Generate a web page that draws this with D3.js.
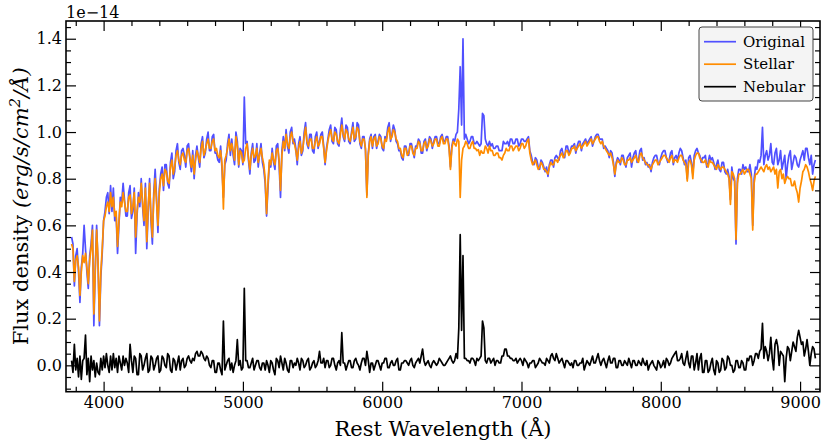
<!DOCTYPE html>
<html>
<head>
<meta charset="utf-8">
<script src="https://cdn.jsdelivr.net/npm/d3@7"></script>
<style>
  body { margin: 0; background: #fff; }
  text { font-family: "DejaVu Serif", serif; fill: #000; }
</style>
</head>
<body>
<div id="chart"></div>
<script>
// wavelength grid of the spectra (Angstrom)
var startWave = 3770;
var stepWave = 10;

// flux density, units of 1e-14 erg/s/cm2/A, one row = 200 A
var stellar = [
  0.52,0.50,0.36,0.45,0.47,0.42,0.30,0.40,0.47,0.44, 0.48,0.42,0.35,0.45,0.50,0.58,0.22,0.40,0.58,0.45,
  0.19,0.40,0.50,0.62,0.64,0.68,0.70,0.66,0.74,0.68, 0.72,0.64,0.66,0.51,0.62,0.70,0.68,0.74,0.70,0.66,
  0.66,0.72,0.73,0.65,0.68,0.74,0.55,0.66,0.72,0.70, 0.78,0.70,0.62,0.76,0.53,0.68,0.78,0.64,0.55,0.72,
  0.80,0.70,0.60,0.74,0.80,0.82,0.77,0.84,0.83,0.79, 0.78,0.85,0.88,0.82,0.85,0.90,0.92,0.88,0.86,0.90,
  0.91,0.88,0.87,0.92,0.93,0.89,0.85,0.90,0.82,0.88, 0.92,0.90,0.87,0.93,0.96,0.90,0.92,0.95,0.97,0.93,
  0.93,0.96,0.97,0.92,0.93,0.90,0.89,0.92,0.86,0.67, 0.88,0.90,0.93,0.97,0.92,0.95,0.92,0.88,0.98,0.94,
  0.86,0.92,0.91,0.87,0.88,0.93,0.95,0.89,0.84,0.90, 0.93,0.89,0.90,0.93,0.87,0.90,0.93,0.89,0.86,0.80,
  0.65,0.78,0.88,0.86,0.91,0.88,0.86,0.92,0.93,0.88, 0.75,0.90,0.96,0.93,0.99,0.95,0.93,0.98,1.00,0.96,
  0.95,0.92,0.88,0.93,0.96,0.91,0.93,0.98,1.02,0.96, 0.94,0.97,0.97,0.93,0.93,0.96,0.98,0.94,0.95,0.98,
  0.98,0.93,0.87,0.92,0.96,0.99,1.01,0.97,0.96,1.00, 0.99,0.96,0.95,0.99,1.03,0.99,0.97,1.01,1.00,0.97,
  0.96,0.99,1.02,0.97,0.98,1.02,1.01,0.96,0.94,0.97, 0.97,0.93,0.72,0.90,0.96,0.98,0.94,0.97,0.98,0.94,
  0.95,0.98,0.97,0.94,0.93,0.97,0.96,1.00,1.02,0.97, 0.98,1.01,1.00,0.97,0.96,0.93,0.93,0.90,0.89,0.93,
  0.93,0.90,0.91,0.94,0.94,0.91,0.90,0.93,0.93,0.96, 0.95,0.92,0.92,0.95,0.96,0.93,0.94,0.97,0.96,0.94,
  0.95,0.97,0.97,0.94,0.94,0.97,0.98,0.95,0.95,0.97, 0.97,0.93,0.84,0.93,0.96,0.95,0.94,0.97,0.96,0.72,
  0.88,0.93,0.94,0.96,0.95,0.93,0.93,0.95,0.96,0.93, 0.93,0.92,0.925,0.90,0.92,0.91,0.91,0.94,0.93,0.91,
  0.94,0.92,0.92,0.90,0.90,0.91,0.91,0.89,0.89,0.88, 0.90,0.91,0.93,0.92,0.92,0.94,0.94,0.92,0.93,0.94,
  0.94,0.92,0.93,0.95,0.95,0.93,0.94,0.96,0.97,0.91, 0.88,0.86,0.87,0.88,0.86,0.84,0.85,0.87,0.86,0.84,
  0.84,0.83,0.82,0.85,0.87,0.86,0.86,0.88,0.88,0.87, 0.89,0.90,0.91,0.89,0.90,0.92,0.92,0.90,0.91,0.93,
  0.93,0.94,0.92,0.93,0.94,0.95,0.93,0.94,0.95,0.96, 0.94,0.95,0.96,0.97,0.95,0.96,0.97,0.98,0.98,0.96,
  0.95,0.96,0.94,0.93,0.92,0.91,0.90,0.91,0.89,0.86, 0.82,0.86,0.88,0.87,0.87,0.89,0.88,0.86,0.86,0.88,
  0.88,0.89,0.87,0.88,0.89,0.90,0.88,0.87,0.90,0.91, 0.89,0.88,0.87,0.86,0.86,0.85,0.84,0.86,0.87,0.88,
  0.88,0.86,0.87,0.88,0.89,0.90,0.90,0.89,0.88,0.87, 0.89,0.90,0.87,0.88,0.88,0.87,0.89,0.90,0.90,0.88,
  0.87,0.86,0.79,0.87,0.88,0.86,0.80,0.88,0.90,0.91, 0.91,0.89,0.88,0.87,0.87,0.88,0.86,0.85,0.88,0.87,
  0.87,0.86,0.85,0.84,0.86,0.85,0.84,0.85,0.85,0.84, 0.83,0.82,0.80,0.69,0.83,0.82,0.80,0.54,0.78,0.82,
  0.82,0.83,0.84,0.82,0.83,0.84,0.84,0.82,0.80,0.58, 0.78,0.82,0.82,0.83,0.84,0.85,0.84,0.83,0.85,0.86,
  0.84,0.85,0.83,0.84,0.85,0.82,0.84,0.76,0.83,0.84, 0.80,0.82,0.78,0.80,0.81,0.80,0.80,0.77,0.77,0.79,
  0.76,0.74,0.70,0.76,0.79,0.83,0.84,0.86,0.85,0.83, 0.80,0.78,0.75,0.79,0.81
];

var original = [
  0.55,0.52,0.34,0.47,0.50,0.40,0.27,0.42,0.48,0.60, 0.50,0.40,0.33,0.47,0.52,0.60,0.17,0.42,0.60,0.43,
  0.17,0.38,0.48,0.62,0.66,0.72,0.74,0.65,0.77,0.66, 0.76,0.62,0.64,0.48,0.60,0.72,0.70,0.78,0.71,0.64,
  0.64,0.74,0.77,0.63,0.66,0.76,0.48,0.64,0.74,0.68, 0.80,0.68,0.60,0.78,0.50,0.66,0.80,0.62,0.52,0.74,
  0.84,0.72,0.57,0.76,0.82,0.85,0.75,0.86,0.86,0.78, 0.76,0.87,0.91,0.80,0.83,0.92,0.95,0.87,0.84,0.92,
  0.93,0.90,0.85,0.94,0.95,0.88,0.83,0.92,0.80,0.90, 0.94,0.89,0.85,0.95,0.98,0.89,0.91,0.97,1.00,0.92,
  0.92,0.98,0.99,0.91,0.91,0.88,0.87,0.94,0.84,0.72, 0.86,0.88,0.95,0.99,0.90,0.97,0.90,0.86,1.00,0.96,
  0.85,0.93,0.92,0.86,1.15,0.95,0.96,0.88,0.82,0.91, 0.95,0.87,0.88,0.95,0.85,0.91,0.95,0.87,0.84,0.78,
  0.64,0.76,0.87,0.85,0.93,0.87,0.84,0.94,0.95,0.86, 0.72,0.92,0.98,0.92,1.01,0.94,0.91,1.00,1.02,0.95,
  0.97,0.93,0.86,0.95,0.98,0.90,0.92,1.00,1.04,0.95, 0.93,0.99,0.99,0.92,0.91,0.98,1.00,0.93,0.96,0.99,
  1.00,0.94,0.86,0.93,0.97,1.01,1.03,0.96,0.95,1.02, 1.01,0.95,0.94,1.01,1.06,0.98,0.96,1.03,1.02,0.96,
  0.95,1.00,1.04,0.96,0.97,1.04,1.03,0.95,0.93,0.98, 0.98,0.92,0.73,0.91,0.97,0.99,0.93,0.98,0.99,0.93,
  0.96,0.99,0.98,0.93,0.92,0.98,0.97,1.02,1.04,0.96, 0.99,1.03,1.01,0.96,0.95,0.92,0.92,0.89,0.88,0.94,
  0.94,0.91,0.90,0.95,0.95,0.92,0.89,0.94,0.94,0.97, 0.96,0.91,0.91,0.96,0.97,0.92,0.95,0.98,0.97,0.93,
  0.96,0.98,0.98,0.95,0.95,0.98,0.99,0.96,0.96,0.98, 0.98,0.94,0.85,0.94,0.97,0.96,0.99,1.00,1.10,1.28,
  1.03,1.40,0.97,0.99,0.97,0.95,0.96,0.98,0.98,0.95, 0.95,0.96,0.95,0.94,0.95,1.08,1.07,0.97,0.95,0.94,
  0.96,0.94,0.95,0.93,0.93,0.94,0.94,0.92,0.92,0.92, 0.96,0.95,0.95,0.96,0.94,0.97,0.97,0.95,0.95,0.97,
  0.97,0.94,0.95,0.97,0.97,0.96,0.96,0.97,0.98,0.92, 0.90,0.87,0.86,0.89,0.88,0.85,0.84,0.88,0.87,0.85,
  0.83,0.85,0.81,0.86,0.88,0.88,0.85,0.89,0.90,0.89, 0.88,0.92,0.93,0.90,0.89,0.94,0.94,0.91,0.92,0.94,
  0.94,0.95,0.91,0.94,0.96,0.96,0.92,0.95,0.96,0.97, 0.95,0.96,0.97,0.98,0.94,0.96,0.98,0.99,0.99,0.97,
  0.97,0.97,0.93,0.94,0.93,0.92,0.89,0.92,0.91,0.87, 0.81,0.87,0.89,0.88,0.86,0.90,0.90,0.87,0.85,0.89,
  0.90,0.91,0.85,0.89,0.91,0.92,0.87,0.88,0.92,0.93, 0.88,0.89,0.86,0.87,0.85,0.86,0.83,0.87,0.89,0.90,
  0.90,0.87,0.86,0.89,0.91,0.92,0.92,0.89,0.87,0.88, 0.91,0.92,0.86,0.89,0.90,0.88,0.91,0.93,0.92,0.89,
  0.86,0.88,0.80,0.89,0.90,0.87,0.82,0.90,0.92,0.93, 0.91,0.90,0.87,0.89,0.89,0.90,0.85,0.87,0.90,0.88,
  0.89,0.87,0.84,0.86,0.88,0.84,0.83,0.87,0.87,0.83, 0.82,0.84,0.81,0.71,0.85,0.80,0.79,0.52,0.80,0.84,
  0.84,0.82,0.86,0.84,0.85,0.83,0.83,0.86,0.82,0.60, 0.80,0.85,0.84,0.88,0.87,0.90,1.02,0.86,0.90,0.92,
  0.88,0.90,0.95,0.87,0.86,0.91,0.93,0.86,0.88,0.92, 0.84,0.87,0.90,0.80,0.86,0.90,0.92,0.84,0.87,0.90,
  0.89,0.86,0.85,0.88,0.90,0.92,0.88,0.93,0.93,0.89, 0.86,0.90,0.82,0.86,0.88
];

var nebular = [
  0.02,-0.03,0.09,-0.02,0.03,-0.05,0.04,-0.06,0.02,0.03, 0.13,-0.04,0.03,-0.07,0.04,-0.02,0.02,-0.05,0.01,-0.03,
  -0.04,0.03,-0.02,0.04,-0.01,0.05,0.00,-0.03,0.04,-0.02, 0.05,-0.01,0.03,-0.03,0.04,0.01,-0.02,0.04,0.00,0.03,
  0.01,-0.03,0.09,0.02,-0.03,0.04,0.03,-0.04,-0.04,0.05, 0.04,-0.02,0.00,0.03,0.05,-0.03,-0.02,0.04,0.03,-0.02,
  0.00,0.03,0.04,-0.03,-0.02,0.04,0.03,0.00,-0.01,0.05, 0.04,-0.02,-0.03,0.03,0.02,-0.02,0.01,0.04,-0.02,0.02,
  0.03,-0.01,0.00,0.03,0.04,0.02,0.01,0.03,0.02,0.05, 0.06,0.04,0.04,0.06,0.05,0.03,0.02,0.04,0.03,0.00,
  -0.01,0.02,0.02,-0.03,-0.03,0.01,0.01,-0.02,-0.04,0.19, -0.02,0.00,0.02,0.03,-0.02,0.01,-0.03,0.00,0.02,0.11,
  0.00,0.02,-0.02,-0.01,0.33,0.02,0.02,-0.01,-0.01,0.01, 0.03,-0.02,0.00,0.02,0.02,-0.01,-0.02,0.01,0.01,-0.02,
  0.02,0.00,-0.03,0.02,0.01,-0.02,-0.04,0.03,0.02,-0.01, 0.04,0.01,-0.02,0.03,0.01,-0.02,-0.03,0.02,0.02,-0.01,
  0.01,0.00,0.03,0.01,-0.02,0.03,0.02,-0.01,0.00,0.02, 0.03,-0.02,-0.01,0.01,0.02,-0.01,0.00,0.02,0.06,0.01,
  0.01,0.03,-0.01,0.02,0.02,-0.01,0.00,0.03,0.03,0.00, -0.02,0.01,0.02,0.00,0.14,0.01,0.01,-0.02,0.00,0.02,
  0.02,-0.01,-0.01,0.02,0.03,0.01,0.00,-0.02,0.01,0.03, 0.03,0.00,0.06,0.02,-0.03,0.01,0.01,-0.02,0.00,0.02,
  0.02,0.00,-0.02,0.01,0.01,0.03,0.03,-0.01,-0.01,0.01, 0.02,0.00,0.00,0.02,0.03,-0.02,-0.02,0.01,0.01,0.02,
  0.02,0.01,0.00,0.02,0.03,0.00,-0.01,0.01,0.02,0.03, 0.01,0.04,0.07,0.02,0.00,0.01,0.02,0.00,-0.01,0.01,
  0.02,0.01,0.00,0.01,0.03,0.02,0.01,0.00,0.00,0.01, 0.02,0.03,0.04,0.02,0.01,0.02,0.05,0.03,0.16,0.56,
  0.15,0.47,0.03,0.03,0.02,0.02,0.01,0.03,0.03,0.02, 0.00,0.03,0.02,0.03,0.04,0.19,0.16,0.02,0.01,0.03,
  0.03,0.01,0.02,0.03,0.00,0.02,0.02,0.01,0.01,0.04, 0.04,0.07,0.07,0.04,0.04,0.03,0.03,0.02,0.02,0.03,
  0.01,0.02,0.03,0.02,0.00,0.03,0.02,0.01,-0.01,0.01, 0.01,0.02,0.02,-0.01,0.00,0.01,0.03,0.02,0.01,0.01,
  0.00,0.03,0.02,0.01,0.04,0.05,0.03,0.02,0.05,0.03, 0.01,0.02,0.03,0.01,-0.01,0.02,0.02,0.01,0.00,0.01,
  -0.01,0.02,0.02,0.00,0.00,0.01,0.01,0.03,-0.02,0.00, 0.02,0.01,0.00,0.02,0.04,0.01,0.01,0.03,0.05,0.02,
  0.00,0.02,0.03,0.01,-0.01,0.02,0.04,0.01,0.01,0.03, 0.03,-0.01,-0.01,0.02,0.02,0.00,0.00,0.02,0.01,0.00,
  0.03,0.01,-0.01,0.02,0.02,0.00,0.00,0.02,0.01,0.00, 0.03,0.01,0.00,0.02,-0.02,0.00,0.01,0.02,0.00,-0.01,
  -0.02,0.02,0.01,-0.01,0.00,0.02,-0.01,0.03,0.02,0.00, 0.01,0.03,0.04,0.05,0.06,0.02,0.02,0.03,0.05,0.01,
  0.00,0.03,0.06,0.01,-0.01,0.04,0.04,-0.02,0.01,0.05, -0.02,0.03,0.05,-0.03,-0.03,0.02,0.02,-0.03,-0.02,0.01,
  0.03,-0.02,-0.04,0.02,0.01,-0.03,-0.02,0.03,0.02,-0.02, -0.01,0.04,0.03,0.00,0.00,-0.03,-0.02,0.02,0.02,-0.01,
  -0.01,0.02,0.01,-0.02,-0.02,0.03,0.02,0.04,0.04,0.00, 0.02,0.05,0.05,0.03,0.06,0.07,0.18,0.03,0.08,0.06,
  0.02,0.05,0.12,0.03,-0.02,0.09,0.11,0.08,0.00,0.06, 0.05,0.04,-0.07,0.03,0.08,0.07,0.02,0.06,0.10,0.08,
  0.06,0.12,0.15,0.12,0.09,0.10,0.04,0.07,0.11,0.06, 0.00,0.05,0.08,0.07,0.03
];

var seriesNames = ["Original", "Stellar", "Nebular"];
var seriesColors = ["#5050ff", "#ff8c00", "#000000"];

var xTicks = [4000, 5000, 6000, 7000, 8000, 9000];
var yTicks = [0.0, 0.2, 0.4, 0.6, 0.8, 1.0, 1.2, 1.4];

var svgWidth = 830;
var svgHeight = 444;
var margin = { top: 21, right: 10, bottom: 52.3, left: 66 };
var width = svgWidth - margin.left - margin.right;
var height = svgHeight - margin.top - margin.bottom;

var svg = d3.select("#chart")
  .append("svg")
  .attr("width", svgWidth)
  .attr("height", svgHeight);

var chartGroup = svg.append("g")
  .attr("transform", `translate(${margin.left}, ${margin.top})`);

var xScale = d3.scaleLinear().domain([3730, 9143]).range([0, width]);
var yScale = d3.scaleLinear().domain([-0.113, 1.476]).range([height, 0]);

var wave = d3.range(stellar.length).map(i => startWave + i * stepWave);

chartGroup.append("clipPath").attr("id", "plotclip")
  .append("rect").attr("width", width).attr("height", height);

var line = d3.line()
  .x(d => xScale(d[0]))
  .y(d => yScale(d[1]));

var plotArea = chartGroup.append("g").attr("clip-path", "url(#plotclip)");
[original, stellar, nebular].forEach(function(vals, k) {
  plotArea.append("path")
    .datum(vals.map((v, i) => [wave[i], v]))
    .attr("d", line)
    .attr("fill", "none")
    .attr("stroke", seriesColors[k])
    .attr("stroke-width", 1.7)
    .attr("stroke-linejoin", "round");
});

// axes, ticks pointing inward on all four sides
var xMinor = d3.range(3800, 9101, 200).filter(v => xTicks.indexOf(v) < 0);
var yMinor = d3.range(-0.1, 1.46, 0.05).filter(v => yTicks.every(t => Math.abs(t - v) > 1e-6));

function styleAxis(g) {
  g.select(".domain").remove();
  g.selectAll("line").attr("stroke", "#000").attr("stroke-width", 1.2);
  g.selectAll("text").attr("font-size", "16px").attr("font-family", "DejaVu Serif");
}

chartGroup.append("g").attr("transform", `translate(0, ${height})`)
  .call(d3.axisBottom(xScale).tickValues(xTicks).tickSize(-10).tickPadding(5).tickFormat(d3.format("d")))
  .call(styleAxis);
chartGroup.append("g").attr("transform", `translate(0, ${height})`)
  .call(d3.axisBottom(xScale).tickValues(xMinor).tickSize(-5).tickFormat(""))
  .call(styleAxis);
chartGroup.append("g")
  .call(d3.axisTop(xScale).tickValues(xTicks).tickSize(-10).tickFormat(""))
  .call(styleAxis);
chartGroup.append("g")
  .call(d3.axisTop(xScale).tickValues(xMinor).tickSize(-5).tickFormat(""))
  .call(styleAxis);

chartGroup.append("g")
  .call(d3.axisLeft(yScale).tickValues(yTicks).tickSize(-10).tickPadding(4).tickFormat(d3.format(".1f")))
  .call(styleAxis);
chartGroup.append("g")
  .call(d3.axisLeft(yScale).tickValues(yMinor).tickSize(-5).tickFormat(""))
  .call(styleAxis);
chartGroup.append("g").attr("transform", `translate(${width}, 0)`)
  .call(d3.axisRight(yScale).tickValues(yTicks).tickSize(-10).tickFormat(""))
  .call(styleAxis);
chartGroup.append("g").attr("transform", `translate(${width}, 0)`)
  .call(d3.axisRight(yScale).tickValues(yMinor).tickSize(-5).tickFormat(""))
  .call(styleAxis);

chartGroup.append("rect")
  .attr("width", width).attr("height", height)
  .attr("fill", "none").attr("stroke", "#000").attr("stroke-width", 1.6);

// offset text
chartGroup.append("text")
  .attr("x", 0).attr("y", -3)
  .attr("font-size", "16px")
  .text("1e\u221214");

// axis labels
chartGroup.append("text")
  .attr("x", width / 2).attr("y", height + 44.5)
  .attr("text-anchor", "middle")
  .attr("font-size", "21px")
  .text("Rest Wavelength (\u00c5)");

var yLabel = chartGroup.append("text")
  .attr("transform", `translate(${-38}, ${height / 2}) rotate(-90)`)
  .attr("text-anchor", "middle")
  .attr("font-size", "21px");
yLabel.append("tspan").text("Flux density ");
yLabel.append("tspan").attr("font-style", "italic").text("(erg/s/cm");
yLabel.append("tspan").attr("font-style", "italic").attr("font-size", "15px").attr("dy", "-8").text("2");
yLabel.append("tspan").attr("font-style", "italic").attr("dy", "8").text("/\u00c5)");

// legend
var legend = svg.append("g").attr("transform", "translate(699, 27)");
legend.append("rect")
  .attr("width", 114).attr("height", 74).attr("rx", 3)
  .attr("fill", "#f4f4f4").attr("stroke", "#444").attr("stroke-width", 1);
seriesNames.forEach(function(name, k) {
  var yy = 14.7 + k * 22.5;
  legend.append("line")
    .attr("x1", 5).attr("x2", 37).attr("y1", yy).attr("y2", yy)
    .attr("stroke", seriesColors[k]).attr("stroke-width", 1.7);
  legend.append("text")
    .attr("x", 44).attr("y", yy).attr("dy", "0.35em")
    .attr("font-size", "15px")
    .text(name);
});
</script>
</body>
</html>
